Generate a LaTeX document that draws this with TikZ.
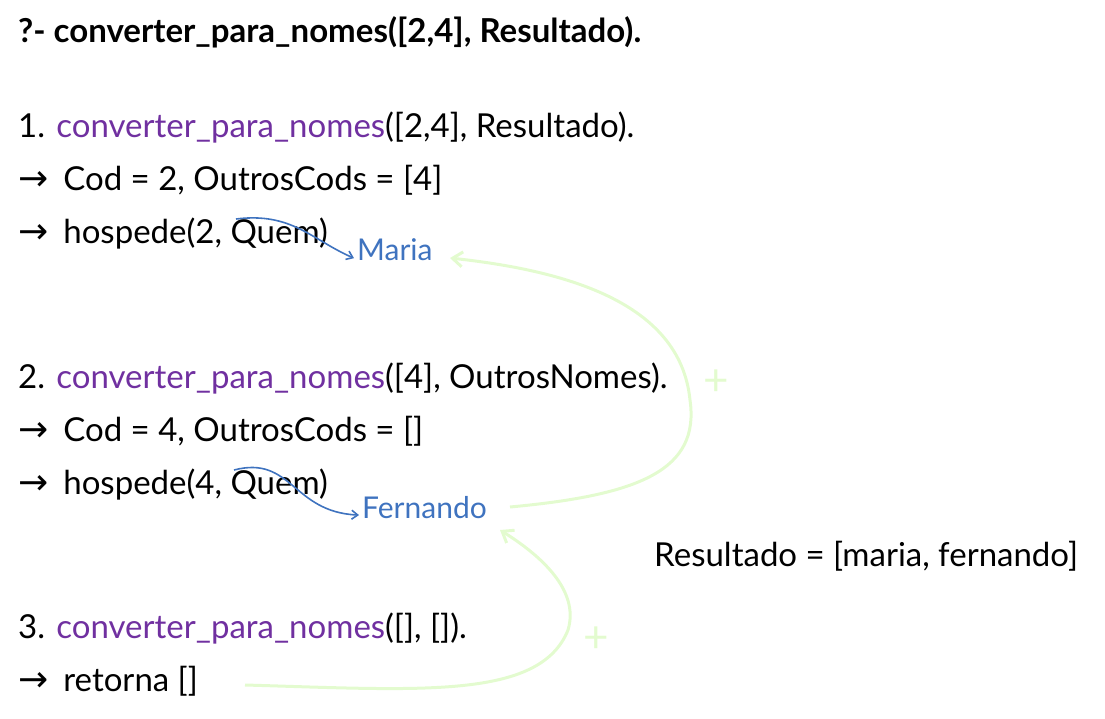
\documentclass[tikz,border=0pt]{standalone}
\usepackage{fontspec}
\setmainfont{Lato}
\newfontfamily\arrowfont{DejaVu Sans}
\usetikzlibrary{calc}
\usetikzlibrary{arrows.meta}
\tikzset{>=latex}
\definecolor{mypurple}{HTML}{7030A0}
\definecolor{myblue}{HTML}{3F73BF}
\definecolor{mygreen}{HTML}{E3FBCF}
\newcommand{\seta}{{\arrowfont\fontsize{36}{36}\selectfont →}\hspace{15pt}}

\begin{document}
\begin{tikzpicture}[x=1pt,y=-1pt,
    txt/.style={anchor=base west, inner sep=0pt, font=\fontsize{33}{34}\selectfont},
    ans/.style={anchor=base west, inner sep=0pt, text=myblue, font=\fontsize{30}{30}\selectfont},
    bluearr/.style={-{Straight Barb[length=6pt,width=9pt]}, myblue, line width=1.6pt},
    greenarr/.style={-{Straight Barb[length=10pt,width=15pt]}, mygreen, line width=3pt},
    plus/.style={mygreen, inner sep=0pt, font=\fontsize{44}{44}\selectfont}]

    \useasboundingbox (0,0) rectangle (1105,719);

    % query
    \node[txt, font=\fontsize{33}{34}\selectfont\bfseries] (q) at (18,43) {?- converter\_para\_nomes([2,4], Resultado).};

    % step 1
    \node[txt] (l1) at (18,138) {1. \textcolor{mypurple}{converter\_para\_nomes}([2,4], Resultado).};
    \node[txt] (l1a) at (18,191) {\seta Cod = 2, OutrosCods = [4]};
    \node[txt] (l1b) at (18,244) {\seta hospede(2, Quem)};
    \node[ans] (maria) at (357,261) {Maria};

    % step 2
    \node[txt] (l2) at (18,388) {2. \textcolor{mypurple}{converter\_para\_nomes}([4], OutrosNomes).};
    \node[txt] (l2a) at (18,441) {\seta Cod = 4, OutrosCods = []};
    \node[txt] (l2b) at (18,494) {\seta hospede(4, Quem)};
    \node[ans] (fernando) at (362,518) {Fernando};

    \node[txt] (res) at (654,566) {Resultado = [maria, fernando]};

    % step 3
    \node[txt] (l3) at (18,638) {3. \textcolor{mypurple}{converter\_para\_nomes}([], []).};
    \node[txt] (l3a) at (18,691) {\seta retorna []};

    % unification arrows
    \coordinate (c1) at (236,219);
    \coordinate (c2) at (234,470);
    \draw[bluearr] (c1) .. controls (292,212) and (312,240) .. ([xshift=-3pt,yshift=-8pt]maria.west);
    \draw[bluearr] (c2) .. controls (292,455) and (292,512) .. ([xshift=-3pt,yshift=-8pt]fernando.west);

    % returned values
    \coordinate (g1) at (510,507);
    \coordinate (g2) at (245,685);
    \draw[greenarr] (g1) .. controls (640,495) and (700,470) .. (690,400)
        .. controls (680,300) and (560,270) .. (450,258);
    \draw[greenarr] (g2) .. controls (420,690) and (540,700) .. (568,630)
        .. controls (580,590) and (540,555) .. (500,530);
    \node[plus] (plus1) at (716,383) {+};
    \node[plus] (plus2) at (596,640) {+};
\end{tikzpicture}
\end{document}
